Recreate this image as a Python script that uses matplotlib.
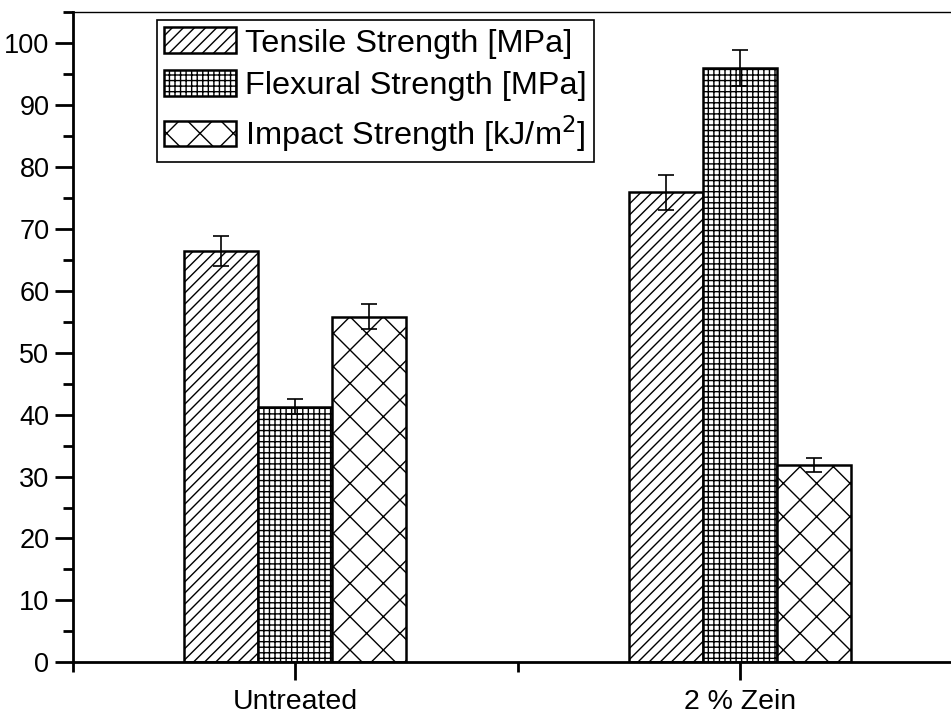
import matplotlib
matplotlib.use('Agg')
import matplotlib.pyplot as plt
import numpy as np

# datos
grupos = ['Untreated', '2 % Zein']
series = ['Tensile Strength [MPa]', 'Flexural Strength [MPa]', 'Impact Strength [kJ/m$^2$]']
tensile = [66.4, 75.9]
tensile_err = [2.4, 2.8]
flexural = [41.3, 96.0]
flexural_err = [1.2, 2.9]
impact = [55.8, 31.9]
impact_err = [2.0, 1.15]

valores = [tensile, flexural, impact]
errores = [tensile_err, flexural_err, impact_err]
tramas = ['///', '+++', 'x']

plt.rcParams['font.family'] = ['Liberation Sans', 'DejaVu Sans']
plt.rcParams['hatch.linewidth'] = 1.0

fig = plt.figure(figsize=(9.51, 7.16), dpi=100)
ax = fig.add_axes([0.0768, 0.075, 0.9348, 0.908])

x = np.arange(1, len(grupos) + 1)
ancho = 1 / 6

for i in range(3):
    ax.bar(x + (i - 1) * ancho, valores[i], ancho, color='white', edgecolor='black',
           linewidth=1.8, hatch=tramas[i], label=series[i],
           yerr=errores[i], capsize=6,
           error_kw=dict(elinewidth=1.2, capthick=1.2, ecolor='black'))

ax.set_xlim(0.5, 2.5)
ax.set_ylim(0, 105)
ax.set_xticks(x)
ax.set_xticklabels(grupos)
ax.set_xticks([0.5, 1.5, 2.5], minor=True)
ax.set_yticks(np.arange(0, 101, 10))
ax.set_yticks(np.arange(5, 106, 10), minor=True)

ax.tick_params(which='major', direction='out', length=13, width=2, pad=4)
ax.tick_params(which='minor', direction='out', length=7, width=2)
ax.tick_params(axis='y', labelsize=19.5)
ax.tick_params(axis='x', labelsize=20.5, pad=6)

ax.spines['left'].set_linewidth(2)
ax.spines['bottom'].set_linewidth(2)
ax.spines['top'].set_linewidth(1)
ax.spines['right'].set_linewidth(1)

leg = ax.legend(loc='upper left', bbox_to_anchor=(0.0945, 0.9877), borderaxespad=0,
                fontsize=23.4, fancybox=False, edgecolor='black', framealpha=1,
                handlelength=2.2, handleheight=0.85, handletextpad=0.3,
                labelspacing=0.36, borderpad=0.22)
leg.get_frame().set_linewidth(1.2)

fig.savefig('out.png', dpi=100)
